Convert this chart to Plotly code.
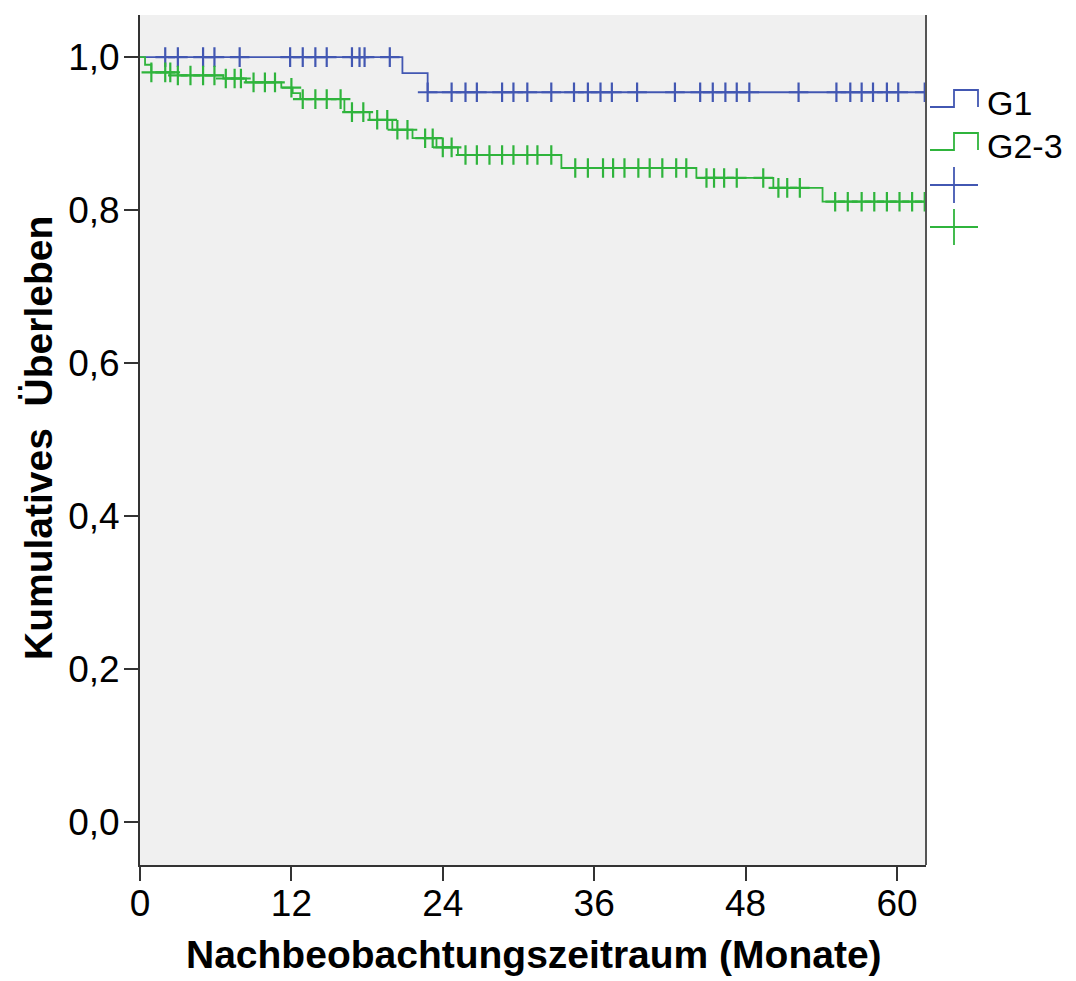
import plotly.graph_objects as go

# Kaplan-Meier estimates: event times (months) and survival after each event
g1_event_times = [20.8, 22.8]
g1_survival = [0.979, 0.954]
g1_censored = [2.0, 3.0, 5.0, 5.9, 7.9, 11.9, 12.9, 13.9, 14.8, 16.8, 17.4, 17.8, 19.8,
               22.8, 24.7, 25.8, 26.7, 28.7, 29.6, 30.7, 32.6, 34.4, 35.5, 36.5, 37.4,
               39.4, 42.4, 44.4, 45.4, 46.4, 47.3, 48.3, 52.2, 55.2, 56.3, 57.2, 58.1,
               59.2, 60.1, 62.2]

g23_event_times = [0.4, 0.9, 3.0, 6.6, 8.4, 11.2, 12.1, 12.7, 16.2, 18.2, 20.0, 21.6,
                   23.5, 25.2, 33.4, 44.1, 50.2, 54.1]
g23_survival = [0.990, 0.980, 0.976, 0.972, 0.967, 0.960, 0.953, 0.945, 0.928, 0.918,
                0.905, 0.894, 0.882, 0.872, 0.855, 0.842, 0.829, 0.811]
g23_censored = [0.9, 2.0, 2.4, 3.0, 4.0, 5.0, 5.9, 6.8, 7.5, 8.0, 9.0, 9.9, 10.7, 12.0,
                12.9, 13.9, 14.8, 15.9, 16.8, 17.7, 18.8, 19.6, 20.4, 21.2, 22.6, 23.2,
                24.0, 24.7, 25.8, 26.7, 27.7, 28.7, 29.6, 30.7, 31.5, 32.6, 34.5, 35.5,
                36.7, 37.5, 38.4, 39.5, 40.4, 41.4, 42.5, 43.3, 44.9, 45.5, 46.3, 47.3,
                49.4, 50.6, 51.3, 52.3, 55.1, 56.1, 57.2, 58.2, 59.2, 60.2, 61.2, 62.2]

x_ticks = [0, 12, 24, 36, 48, 60]
y_ticks = [0.0, 0.2, 0.4, 0.6, 0.8, 1.0]
group_names = ["G1", "G2-3"]
x_title = "Nachbeobachtungszeitraum (Monate)"
y_title = "Kumulatives  Überleben"

BLUE = "#4257b2"
GREEN = "#2fb43c"
FONT = "Arial, Liberation Sans, sans-serif"
X_MAX = 62.3


def step_curve(times, surv, t_end):
    xs = [0.0] + list(times) + [t_end]
    ys = [1.0] + list(surv) + [surv[-1]]
    return xs, ys


def surv_at(t, times, surv):
    s = 1.0
    for ti, si in zip(times, surv):
        if ti <= t:
            s = si
    return s


fig = go.Figure()

for times, surv, cens, color, name in [
    (g1_event_times, g1_survival, g1_censored, BLUE, group_names[0]),
    (g23_event_times, g23_survival, g23_censored, GREEN, group_names[1]),
]:
    xs, ys = step_curve(times, surv, max(cens))
    fig.add_trace(go.Scatter(x=xs, y=ys, mode="lines", line=dict(color=color, width=1.8, shape="hv"),
                             name=name, showlegend=False, hoverinfo="skip"))
    fig.add_trace(go.Scatter(x=cens, y=[surv_at(t, times, surv) for t in cens], mode="markers",
                             marker=dict(symbol="cross-thin", size=14, line=dict(color=color, width=2.2)),
                             name=name + " zensiert", showlegend=False, hoverinfo="skip"))

# Legend and titles placed in paper coordinates around the plot area
L, R, T, B = 140, 926, 15, 865


def px(x):
    return (x - L) / (R - L)


def py(y):
    return (B - y) / (B - T)


shapes = []
for (y_lo, y_hi, color) in [(107, 90, BLUE), (150, 133, GREEN)]:
    shapes.append(dict(type="path", xref="paper", yref="paper",
                       path=f"M {px(930)} {py(y_lo)} L {px(954)} {py(y_lo)} L {px(954)} {py(y_hi)} "
                            f"L {px(978)} {py(y_hi)} L {px(978)} {py(y_lo)}",
                       line=dict(color=color, width=1.8)))
for (yc, color) in [(185, BLUE), (227, GREEN)]:
    shapes.append(dict(type="line", xref="paper", yref="paper", x0=px(930), x1=px(978),
                       y0=py(yc), y1=py(yc), line=dict(color=color, width=1.8)))
    shapes.append(dict(type="line", xref="paper", yref="paper", x0=px(954), x1=px(954),
                       y0=py(yc - 18), y1=py(yc + 18), line=dict(color=color, width=1.8)))
# right frame line of the plot area
shapes.append(dict(type="line", xref="paper", yref="paper", x0=1, x1=1, y0=0, y1=1,
                   line=dict(color="#555555", width=2)))

annotations = [
    dict(x=px(985), y=py(103), xref="paper", yref="paper", text=group_names[0], showarrow=False,
         xanchor="left", yanchor="middle", font=dict(family=FONT, size=34, color="black")),
    dict(x=px(985), y=py(146), xref="paper", yref="paper", text=group_names[1], showarrow=False,
         xanchor="left", yanchor="middle", font=dict(family=FONT, size=34, color="black")),
    dict(x=px(534), y=py(954), xref="paper", yref="paper", text=f"<b>{x_title}</b>", showarrow=False,
         xanchor="center", yanchor="middle", font=dict(family=FONT, size=39, color="black")),
    dict(x=px(38), y=py(438), xref="paper", yref="paper", text=f"<b>{y_title}</b>", showarrow=False,
         textangle=-90, xanchor="center", yanchor="middle",
         font=dict(family=FONT, size=39, color="black")),
]

fig.update_layout(
    width=1076, height=981,
    margin=dict(l=L, r=1076 - R, t=T, b=981 - B),
    paper_bgcolor="white", plot_bgcolor="#f0f0f0",
    separators=",.",
    font=dict(family=FONT, size=37, color="black"),
    shapes=shapes, annotations=annotations,
    showlegend=False,
)
fig.update_xaxes(
    range=[0, X_MAX], tickvals=x_ticks, showgrid=False, zeroline=False, automargin=False,
    showline=True, linecolor="#333333", linewidth=2, ticks="outside", ticklen=14,
    tickwidth=2, tickcolor="#333333", tickfont=dict(size=37), ticklabelstandoff=-9,
)
fig.update_yaxes(
    range=[-0.056, 1.055], tickvals=y_ticks, tickformat=".1f", showgrid=False, zeroline=False,
    automargin=False, ticklabelstandoff=-3,
    showline=True, linecolor="#333333", linewidth=2, ticks="outside", ticklen=14,
    tickwidth=2, tickcolor="#333333", tickfont=dict(size=37),
)

fig.write_html("out.html")
